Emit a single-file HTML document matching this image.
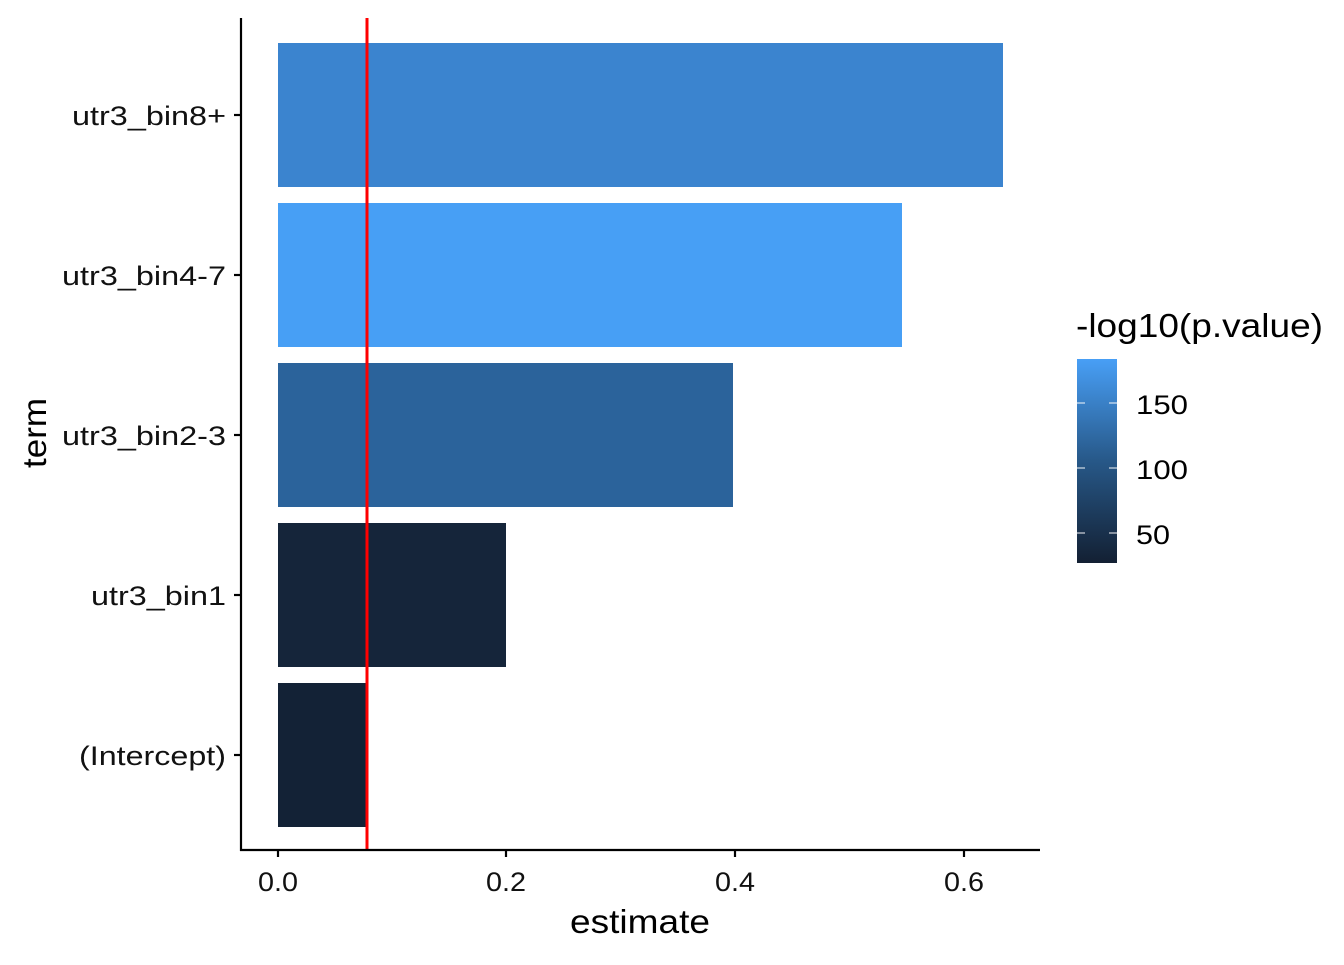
<!DOCTYPE html>
<html><head><style>body{margin:0;background:#fff}</style></head><body>
<svg width="1344" height="960" xmlns="http://www.w3.org/2000/svg" font-family="Liberation Sans, Arial, sans-serif">
<defs><linearGradient id="g" x1="0" y1="1" x2="0" y2="0">
<stop offset="0" stop-color="#132033"/><stop offset="0.5" stop-color="#275888"/><stop offset="1" stop-color="#489ff6"/></linearGradient></defs>
<rect x="278" y="43" width="725" height="144" fill="#3b84cf"/>
<rect x="278" y="203" width="624" height="144" fill="#479ff5"/>
<rect x="278" y="363" width="455" height="144" fill="#2b639b"/>
<rect x="278" y="523" width="228" height="144" fill="#15253a"/>
<rect x="278" y="683" width="88" height="144" fill="#132236"/>
<line x1="367" y1="18" x2="367" y2="850" stroke="#f00" stroke-width="3"/>
<g stroke="#000" stroke-width="2.2">
<line x1="241" y1="18" x2="241" y2="851"/><line x1="240" y1="850" x2="1040" y2="850"/>
<line x1="234" y1="115" x2="241" y2="115"/><line x1="234" y1="275" x2="241" y2="275"/><line x1="234" y1="435" x2="241" y2="435"/><line x1="234" y1="595" x2="241" y2="595"/><line x1="234" y1="755" x2="241" y2="755"/>
<line x1="278" y1="850" x2="278" y2="857"/><line x1="506" y1="850" x2="506" y2="857"/><line x1="735" y1="850" x2="735" y2="857"/><line x1="964" y1="850" x2="964" y2="857"/>
</g>
<g font-size="27" fill="#111" lengthAdjust="spacingAndGlyphs">
<text x="72" y="125" textLength="154" lengthAdjust="spacingAndGlyphs">utr3_bin8+</text>
<text x="62" y="285" textLength="164" lengthAdjust="spacingAndGlyphs">utr3_bin4-7</text>
<text x="62" y="445" textLength="164" lengthAdjust="spacingAndGlyphs">utr3_bin2-3</text>
<text x="91" y="605" textLength="135" lengthAdjust="spacingAndGlyphs">utr3_bin1</text>
<text x="79" y="765" textLength="147" lengthAdjust="spacingAndGlyphs">(Intercept)</text>
</g>
<g font-size="27" fill="#111">
<text x="258" y="891" textLength="40" lengthAdjust="spacingAndGlyphs">0.0</text>
<text x="486" y="891" textLength="40" lengthAdjust="spacingAndGlyphs">0.2</text>
<text x="715" y="891" textLength="40" lengthAdjust="spacingAndGlyphs">0.4</text>
<text x="944" y="891" textLength="40" lengthAdjust="spacingAndGlyphs">0.6</text>
</g>
<text x="570" y="933" font-size="33" textLength="140" lengthAdjust="spacingAndGlyphs">estimate</text>
<text x="0" y="0" font-size="33" textLength="70" lengthAdjust="spacingAndGlyphs" transform="translate(46,468) rotate(-90)">term</text>
<text x="1076" y="337" font-size="33" textLength="247" lengthAdjust="spacingAndGlyphs">-log10(p.value)</text>
<rect x="1077" y="359" width="40" height="204" fill="url(#g)"/>
<g stroke="#fff" stroke-width="1.2" opacity="0.8">
<line x1="1077" y1="403" x2="1085" y2="403"/><line x1="1109" y1="403" x2="1117" y2="403"/>
<line x1="1077" y1="468" x2="1085" y2="468"/><line x1="1109" y1="468" x2="1117" y2="468"/>
<line x1="1077" y1="533" x2="1085" y2="533"/><line x1="1109" y1="533" x2="1117" y2="533"/>
</g>
<g font-size="27" fill="#000">
<text x="1136" y="414" textLength="52" lengthAdjust="spacingAndGlyphs">150</text>
<text x="1136" y="479" textLength="52" lengthAdjust="spacingAndGlyphs">100</text>
<text x="1136" y="544" textLength="34" lengthAdjust="spacingAndGlyphs">50</text>
</g>
</svg>
</body></html>
